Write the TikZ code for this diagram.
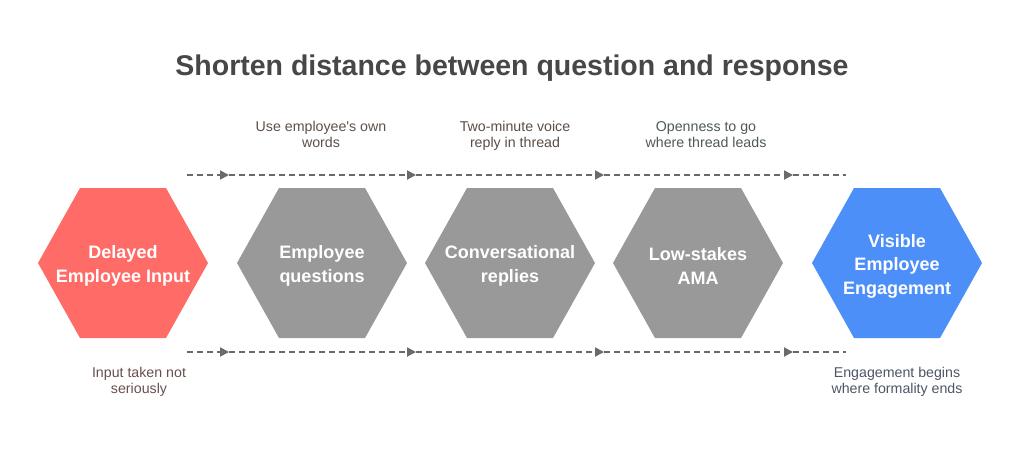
\documentclass[tikz,border=0pt]{standalone}
\usepackage{fontspec}
\setmainfont{Liberation Sans}
\usetikzlibrary{arrows.meta}
\definecolor{hred}{HTML}{FF6B66}
\definecolor{hgray}{HTML}{999999}
\definecolor{hblue}{HTML}{4D8FF8}
\definecolor{titlec}{HTML}{474747}
\definecolor{linec}{HTML}{6A6A6A}
\definecolor{labA}{HTML}{5E514A}
\definecolor{labB}{HTML}{5A4E47}
\definecolor{labC}{HTML}{4F5A53}
\definecolor{labD}{HTML}{6A4F4F}
\definecolor{labE}{HTML}{4E5666}
\tikzset{
  hexa/.pic={\fill (-85,0) -- (-43,-75) -- (43,-75) -- (85,0) -- (43,75) -- (-43,75) -- cycle;},
  hexlabel/.style={text=white, align=center, inner sep=0pt, font=\bfseries\fontsize{18}{23.5}\selectfont},
  sidelabel/.style={align=center, inner sep=0pt, anchor=base, font=\fontsize{14.2}{16}\selectfont},
  conn/.style={draw=linec, line width=1.8pt, dash pattern=on 6pt off 4pt},
  connarrow/.style={conn, -{Triangle[length=9pt,width=9pt]}},
}
\begin{document}
\begin{tikzpicture}[x=1pt,y=-1pt]
\useasboundingbox[fill=white] (0,0) rectangle (1024,457);

% title
\node[anchor=base, inner sep=0pt, text=titlec, font=\bfseries\fontsize{28.5}{34}\selectfont] (title) at (512,76) {Shorten distance between question and response};

% hexagons
\pic[hred] at (123,263) {hexa};
\pic[hgray] at (322,263) {hexa};
\pic[hgray] at (510,263) {hexa};
\pic[hgray] at (698,263) {hexa};
\pic[hblue] at (897,263) {hexa};

\node[hexlabel] (h1) at (123,266) {Delayed\\Employee Input};
\node[hexlabel] (h2) at (322,266) {Employee\\questions};
\node[hexlabel] (h3) at (510,266) {Conversational\\replies};
\node[hexlabel] (h4) at (698,266) {Low-stakes\\AMA};
\node[hexlabel] (h5) at (897,266) {Visible\\Employee\\Engagement};

% connectors
\foreach \r/\y in {t/175, b/352} {
  \coordinate (\r0) at (187,\y);
  \coordinate (\r1) at (229,\y);
  \coordinate (\r2) at (416,\y);
  \coordinate (\r3) at (604,\y);
  \coordinate (\r4) at (793,\y);
  \coordinate (\r5) at (846,\y);
  \draw[connarrow] (\r0) -- (\r1);
  \draw[connarrow] (\r1) -- (\r2);
  \draw[connarrow] (\r2) -- (\r3);
  \draw[connarrow] (\r3) -- (\r4);
  \draw[conn] (\r4) -- (\r5);
}

% side labels (base anchor = last line baseline)
\node[sidelabel, text=labA] (l1) at (321,148) {Use employee\textquotesingle s own\\words};
\node[sidelabel, text=labB] (l2) at (515,148) {Two-minute voice\\reply in thread};
\node[sidelabel, text=labC] (l3) at (706,148) {Openness to go\\where thread leads};
\node[sidelabel, text=labD] (l4) at (139,393) {Input taken not\\seriously};
\node[sidelabel, text=labE] (l5) at (897,393) {Engagement begins\\where formality ends};
\end{tikzpicture}
\end{document}
